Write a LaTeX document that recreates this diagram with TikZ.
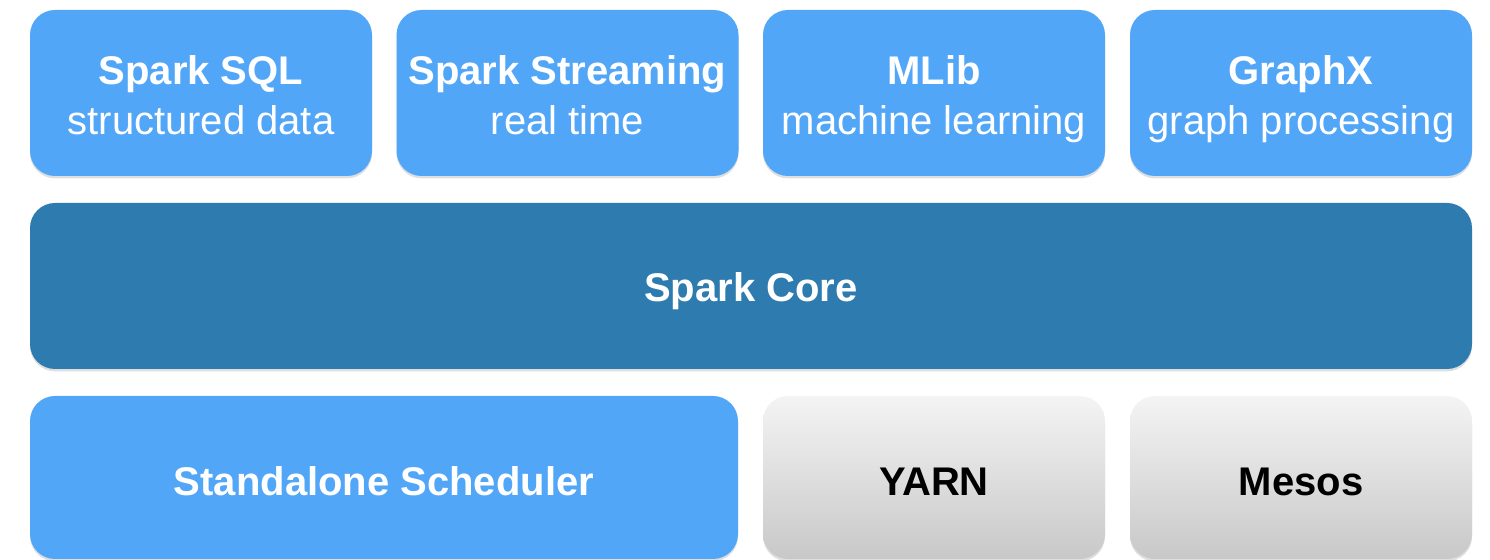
\documentclass[tikz,border=0pt]{standalone}
\usepackage{fontspec}
\setmainfont{Liberation Sans}
\usetikzlibrary{shadows}

\definecolor{sparkblue}{RGB}{82,166,248}
\definecolor{coreblue}{RGB}{46,123,175}
\definecolor{greytop}{RGB}{244,244,244}
\definecolor{greybot}{RGB}{200,200,200}

% title and subtitle with fixed baselines
\newcommand\twolines[2]{\rule{0pt}{21pt}\textbf{#1}\\#2\rule[-4pt]{0pt}{4pt}}

\tikzset{
  layer/.style = {rectangle, rounded corners = 12.5pt, inner sep = 0pt,
    align = center, font = \fontsize{20}{25}\selectfont,
    drop shadow = {opacity = 0.25, shadow xshift = 0pt, shadow yshift = -1.2pt}},
  bluebox/.style = {layer, fill = sparkblue, text = white,
    minimum width = 171pt, minimum height = 83pt},
  corebox/.style = {layer, fill = coreblue, text = white,
    minimum width = 721pt, minimum height = 83pt,
    text height = 16pt, text depth = 0pt},
  greybox/.style = {layer, top color = greytop, bottom color = greybot,
    text = black, minimum width = 171pt, minimum height = 81.5pt,
    text height = 18.5pt, text depth = 0pt}
}

\begin{document}
\begin{tikzpicture}[x = 0.5pt, y = -0.5pt]
\useasboundingbox (0, 0) rectangle (1490, 560);
% libraries on top
\node (sql) at (201, 93) [bluebox] {\twolines{Spark SQL}{structured data}};
\node (streaming) at (567.5, 93) [bluebox] {\twolines{Spark Streaming}{real time}};
\node (mlib) at (934, 93) [bluebox] {\twolines{MLib}{machine learning}};
\node (graphx) at (1301, 93) [bluebox] {\twolines{GraphX}{graph processing}};
% core
\node (core) at (751, 286) [corebox] {\textbf{Spark Core}};
% cluster managers
\node (standalone) at (384, 477.5) [bluebox, minimum width = 354pt,
  minimum height = 81.5pt, text height = 18.5pt, text depth = 0pt]
  {\textbf{Standalone Scheduler}};
\node (yarn) at (934, 477.5) [greybox] {\textbf{YARN}};
\node (mesos) at (1301, 477.5) [greybox] {\textbf{Mesos}};
\end{tikzpicture}
\end{document}
